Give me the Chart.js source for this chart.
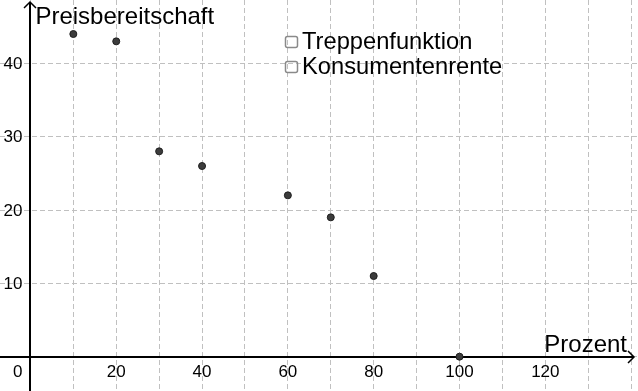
<!DOCTYPE html>
<html>
<head>
<meta charset="utf-8">
<script src="https://cdn.jsdelivr.net/npm/chart.js@4"></script>
<style>
  html, body { margin: 0; padding: 0; background: #fff; }
  canvas { display: block; }
</style>
</head>
<body>
<canvas id="chart" width="638" height="391"></canvas>
<script>
// values
const percent = [10, 20, 30, 40, 60, 70, 80, 100];
const willingness = [44, 43, 28, 26, 22, 19, 11, 0];
const xTickLabels = [20, 40, 60, 80, 100, 120];
const yTickLabels = [10, 20, 30, 40];
const gridX = [-10, 0, 10, 20, 30, 40, 50, 60, 70, 80, 90, 100, 110, 120, 130, 140];
const gridY = [0, 10, 20, 30, 40];
const checkboxLabels = ["Treppenfunktion", "Konsumentenrente"];
const xTitle = "Prozent";
const yTitle = "Preisbereitschaft";

const FONT = "'Liberation Sans', Arial, sans-serif";

// axes with arrows, under the points
const axesPlugin = {
    id: "axes",
    beforeDatasetsDraw(chart) {
        const ctx = chart.ctx;
        const x = chart.scales.x, y = chart.scales.y;
        const ox = Math.round(x.getPixelForValue(0));
        const oy = Math.round(y.getPixelForValue(0));
        const w = chart.width, h = chart.height;
        ctx.save();
        ctx.strokeStyle = "#000";
        ctx.lineWidth = 2;
        ctx.beginPath();
        ctx.moveTo(0, oy);
        ctx.lineTo(w - 4, oy);
        ctx.moveTo(ox, h);
        ctx.lineTo(ox, 2);
        ctx.stroke();
        ctx.lineWidth = 1.5;
        ctx.beginPath();
        ctx.moveTo(w - 10, oy - 6);
        ctx.lineTo(w - 4, oy);
        ctx.lineTo(w - 10, oy + 6);
        ctx.moveTo(ox - 6, 8);
        ctx.lineTo(ox, 2);
        ctx.lineTo(ox + 6, 8);
        ctx.stroke();
        ctx.restore();
    },
    afterDraw(chart) {
        const ctx = chart.ctx;
        const x = chart.scales.x, y = chart.scales.y;
        const ox = x.getPixelForValue(0);
        const oy = y.getPixelForValue(0);
        ctx.save();
        ctx.fillStyle = "#000";

        // tick labels
        ctx.font = "17px " + FONT;
        ctx.textBaseline = "middle";
        ctx.textAlign = "center";
        xTickLabels.forEach(function (v) {
            ctx.fillText(String(v), x.getPixelForValue(v), oy + 16);
        });
        ctx.textAlign = "right";
        yTickLabels.forEach(function (v) {
            ctx.fillText(String(v), ox - 8, y.getPixelForValue(v) + 1);
        });
        ctx.fillText("0", ox - 8, oy + 16);

        // axis titles
        ctx.font = "24px " + FONT;
        ctx.textBaseline = "alphabetic";
        ctx.textAlign = "left";
        ctx.fillText(yTitle, ox + 5, 24);
        ctx.textAlign = "right";
        ctx.fillText(xTitle, chart.width - 11, oy - 5);

        // checkboxes
        ctx.font = "23.7px " + FONT;
        ctx.textAlign = "left";
        checkboxLabels.forEach(function (label, i) {
            const top = 36 + i * 25;
            ctx.strokeStyle = "#8a8a8a";
            ctx.lineWidth = 1.5;
            ctx.beginPath();
            ctx.roundRect(285.5, top + 0.5, 12, 11, 2);
            ctx.stroke();
            ctx.fillStyle = "#000";
            ctx.fillText(label, 302, top + 13);
        });
        ctx.restore();
    }
};

new Chart(document.getElementById("chart"), {
    type: "scatter",
    data: {
        datasets: [{
            label: yTitle,
            data: percent.map(function (p, i) { return { x: p, y: willingness[i] }; }),
            backgroundColor: "#3c3c3c",
            borderColor: "#1e1e1e",
            borderWidth: 1,
            pointRadius: 3.5,
            pointHoverRadius: 3.5
        }]
    },
    options: {
        responsive: false,
        animation: false,
        devicePixelRatio: 1,
        layout: { padding: 0, autoPadding: false },
        plugins: {
            legend: { display: false },
            tooltip: { enabled: false }
        },
        scales: {
            x: {
                type: "linear",
                min: -7.09,
                max: 141.6,
                afterBuildTicks(scale) { scale.ticks = gridX.map(function (v) { return { value: v }; }); },
                afterFit(scale) { scale.height = 0; },
                ticks: { display: false },
                grid: { color: "#c0c0c0", lineWidth: 1, drawTicks: false },
                border: { display: false, dash: [5, 3] }
            },
            y: {
                type: "linear",
                min: -4.68,
                max: 48.64,
                afterBuildTicks(scale) { scale.ticks = gridY.map(function (v) { return { value: v }; }); },
                afterFit(scale) { scale.width = 0; },
                ticks: { display: false },
                grid: { color: "#c0c0c0", lineWidth: 1, drawTicks: false },
                border: { display: false, dash: [5, 3] }
            }
        }
    },
    plugins: [axesPlugin]
});
</script>
</body>
</html>
